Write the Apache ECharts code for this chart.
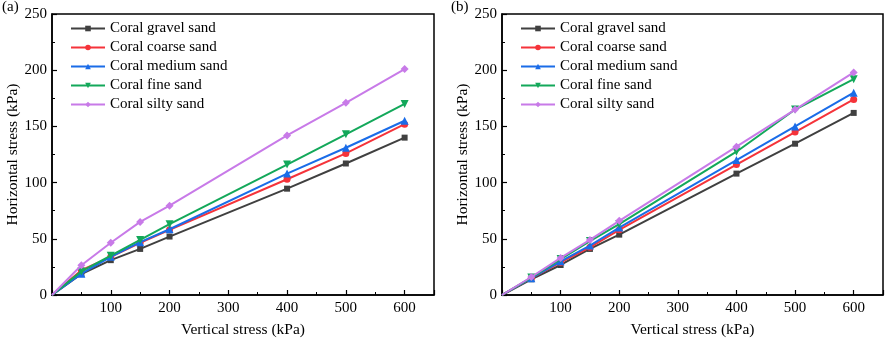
<!DOCTYPE html>
<html>
<head>
<meta charset="utf-8">
<script src="https://cdn.jsdelivr.net/npm/echarts@6/dist/echarts.min.js"></script>
<style>
  html, body { margin: 0; padding: 0; background: #fff; }
  #chart { width: 886px; height: 339px; }
</style>
</head>
<body>
<div id="chart"></div>
<script>
const verticalStress = [0, 50, 100, 150, 200, 400, 500, 600]
const seriesNames = ['Coral gravel sand', 'Coral coarse sand', 'Coral medium sand', 'Coral fine sand', 'Coral silty sand']

// panel (a)
const aGravel = [0, 18.7, 31, 41, 52, 94.6, 117, 140]
const aCoarse = [0, 22, 34, 46.5, 58, 103, 126, 152]
const aMedium = [0, 19, 34, 47, 58.5, 108, 131, 155]
const aFine = [0, 21, 35, 49, 63, 116, 143, 170]
const aSilty = [0, 26.5, 46.5, 65, 79.5, 142, 171, 201]

// panel (b)
const bGravel = [0, 14, 26.7, 41, 53.7, 108, 134.6, 162]
const bCoarse = [0, 15, 29, 42.4, 58, 116, 145, 174]
const bMedium = [0, 15, 30, 44, 60, 120, 150, 180]
const bFine = [0, 15.5, 32, 48, 63, 127.5, 165, 192]
const bSilty = [0, 16, 33, 49, 66, 132, 165, 198]

const colors = ['#404040', '#f5333a', '#1a6ce8', '#13a85a', '#c87ae8']
const symbols = ['rect', 'circle', 'triangle', 'path://M-1,-1L1,-1L0,1Z', 'diamond']
const symbolSizes = [6, 7, 8, 8, 8]

const font = 'Liberation Serif'

function makeSeries(panel, lists) {
  return lists.map((vals, i) => ({
    name: seriesNames[i],
    type: 'line',
    xAxisIndex: panel,
    yAxisIndex: panel,
    // no marker at the origin, only the line starts there
    data: verticalStress.map((x, k) => k === 0 ? { value: [x, vals[k]], symbol: 'none' } : [x, vals[k]]),
    symbol: symbols[i],
    symbolSize: symbolSizes[i],
    showSymbol: true,
    color: colors[i],
    lineStyle: { width: 2, color: colors[i] },
    itemStyle: { color: colors[i] },
    z: 3 + i
  }))
}

function xAxisOpt(idx) {
  return {
    gridIndex: idx,
    type: 'value',
    min: 0,
    max: 650,
    interval: 100,
    name: 'Vertical stress (kPa)',
    nameLocation: 'middle',
    nameGap: 27,
    nameTextStyle: { fontFamily: font, fontSize: 15.5, color: '#000' },
    axisLine: { lineStyle: { color: '#000', width: 1.5 } },
    axisTick: { inside: true, length: 5, lineStyle: { color: '#000', width: 1.2 } },
    minorTick: { show: true, splitNumber: 2, length: 3, lineStyle: { color: '#000', width: 1 } },
    axisLabel: {
      fontFamily: font, fontSize: 15, color: '#000', margin: 6,
      formatter: v => (v > 0 && v % 100 === 0) ? String(v) : ''
    },
    splitLine: { show: false }
  }
}

function yAxisOpt(idx) {
  return {
    gridIndex: idx,
    type: 'value',
    min: 0,
    max: 250,
    interval: 50,
    name: 'Horizontal stress (kPa)',
    nameLocation: 'middle',
    nameGap: 29,
    nameTextStyle: { fontFamily: font, fontSize: 15.5, color: '#000' },
    axisLine: { show: true, lineStyle: { color: '#000', width: 1.5 } },
    axisTick: { inside: true, length: 5, lineStyle: { color: '#000', width: 1.2 } },
    minorTick: { show: true, splitNumber: 2, length: 3, lineStyle: { color: '#000', width: 1 } },
    axisLabel: { fontFamily: font, fontSize: 15, color: '#000', margin: 5 },
    splitLine: { show: false }
  }
}

function legendOpt(left) {
  return {
    orient: 'vertical',
    left: left,
    top: 16,
    itemWidth: 34,
    itemHeight: 7,
    itemGap: 4,
    textStyle: { fontFamily: font, fontSize: 15, color: '#000' },
    data: seriesNames
  }
}

const chart = echarts.init(document.getElementById('chart'))
chart.setOption({
  animation: false,
  backgroundColor: '#fff',
  grid: [
    { left: 52, right: 452, top: 14, bottom: 44, outerBoundsMode: 'none', show: true, borderColor: '#000', borderWidth: 1.5 },
    { left: 502, right: 3, top: 14, bottom: 44, outerBoundsMode: 'none', show: true, borderColor: '#000', borderWidth: 1.5 }
  ],
  xAxis: [xAxisOpt(0), xAxisOpt(1)],
  yAxis: [yAxisOpt(0), yAxisOpt(1)],
  legend: [legendOpt(65), legendOpt(515)],
  graphic: [
    { type: 'text', left: 2, top: 0, style: { text: '(a)', font: '15px "Liberation Serif"', fill: '#000' } },
    { type: 'text', left: 451, top: 0, style: { text: '(b)', font: '15px "Liberation Serif"', fill: '#000' } }
  ],
  series: makeSeries(0, [aGravel, aCoarse, aMedium, aFine, aSilty])
    .concat(makeSeries(1, [bGravel, bCoarse, bMedium, bFine, bSilty]))
})
</script>
</body>
</html>
